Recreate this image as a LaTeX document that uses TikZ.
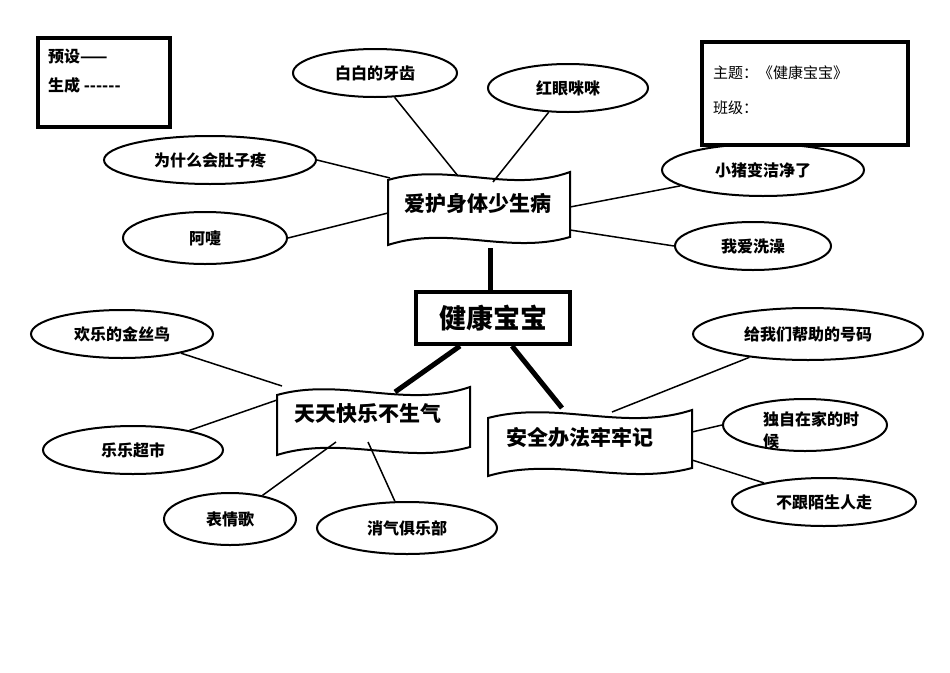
\documentclass[tikz,border=0pt]{standalone}
\usepackage{fontspec}
\newfontfamily\cjk{Noto Sans CJK SC}
\usetikzlibrary{shapes.geometric}
\tikzset{
 ell/.style={ellipse,draw,line width=2pt,font=\cjk\bfseries\fontsize{16}{18}\selectfont,inner sep=0pt},
 conn/.style={line width=1.5pt},
 thk/.style={line width=5pt},
 bantext/.style={font=\cjk\bfseries\fontsize{21}{24}\selectfont,inner sep=0pt},
}
\newcommand\banner[4]{%
 \draw[line width=2pt,fill=white] (#1,#2+8) .. controls ({#1+(#3-#1)/3},#2-10) and ({#1+2*(#3-#1)/3},#2+22) .. (#3,#2) -- (#3,#4-8) .. controls ({#3-(#3-#1)/3},#4+10) and ({#1+(#3-#1)/3},#4-20) .. (#1,#4) -- cycle;}
\begin{document}
\begin{tikzpicture}[x=1pt,y=-1pt]
\useasboundingbox (0,0) rectangle (950,672);
% connectors first
\coordinate (cT) at (490,292); \coordinate (bT) at (490,248);
\draw[thk] (cT) -- (bT);
\coordinate (cL) at (460,346); \coordinate (bL) at (395,392);
\draw[thk] (cL) -- (bL);
\coordinate (cR) at (512,346); \coordinate (bR) at (562,408);
\draw[thk] (cR) -- (bR);
% boxes
\draw[line width=4pt] (38,38) rectangle (170,127);
\node[anchor=west,font=\cjk\bfseries\fontsize{16}{18}\selectfont,inner sep=0pt] (ys) at (48,57) {预设——};
\node[anchor=west,font=\cjk\bfseries\fontsize{16}{18}\selectfont,inner sep=0pt] (sc) at (48,85) {生成 ------};
\draw[line width=4pt] (702,42) rectangle (908,145);
\node[anchor=west,font=\cjk\fontsize{15}{18}\selectfont,inner sep=0pt] (zt) at (713,73) {主题：《健康宝宝》};
\node[anchor=west,font=\cjk\fontsize{15}{18}\selectfont,inner sep=0pt] (bj) at (713,108) {班级：};
% center
\node[draw,line width=4pt,minimum width=154pt,minimum height=52pt,font=\cjk\bfseries\fontsize{27}{30}\selectfont] (c) at (493,318) {健康宝宝};
% banners
\banner{388}{172}{570}{245}
\node[bantext] (b1) at (478,203) {爱护身体少生病};
\banner{277}{387}{470}{455}
\node[bantext] (b2) at (368,414) {天天快乐不生气};
\banner{488}{410}{692}{476}
\node[bantext] (b3) at (580,438) {安全办法牢牢记};
% ellipses
\node[ell,minimum width=164pt,minimum height=48pt] (e1) at (375,73) {白白的牙齿};
\node[ell,minimum width=160pt,minimum height=48pt] (e2) at (568,88) {红眼咪咪};
\node[ell,minimum width=212pt,minimum height=48pt] (e3) at (210,160) {为什么会肚子疼};
\node[ell,minimum width=202pt,minimum height=52pt] (e4) at (763,170) {小猪变洁净了};
\node[ell,minimum width=164pt,minimum height=52pt] (e5) at (205,238) {阿嚏};
\node[ell,minimum width=156pt,minimum height=48pt] (e6) at (753,246) {我爱洗澡};
\node[ell,minimum width=182pt,minimum height=48pt] (e7) at (122,334) {欢乐的金丝鸟};
\node[ell,minimum width=180pt,minimum height=48pt] (e8) at (133,450) {乐乐超市};
\node[ell,minimum width=132pt,minimum height=52pt] (e9) at (230,519) {表情歌};
\node[ell,minimum width=180pt,minimum height=52pt] (e10) at (407,528) {消气俱乐部};
\node[ell,minimum width=230pt,minimum height=52pt] (e11) at (808,334) {给我们帮助的号码};
\node[ell,minimum width=164pt,minimum height=52pt] (e12) at (805,425) {};
\node[anchor=north west,align=left,font=\cjk\bfseries\fontsize{16}{22}\selectfont,inner sep=0pt] (t12) at (763,411) {独自在家的时\\候};
\node[ell,minimum width=184pt,minimum height=48pt] (e13) at (824,502) {不跟陌生人走};
% thin connectors
\coordinate (p1) at (458,176); \draw[conn] (e1) -- (p1);
\coordinate (p2) at (493,182); \draw[conn] (e2) -- (p2);
\coordinate (p3) at (390,178); \draw[conn] (e3.east) -- (p3);
\coordinate (p4) at (570,207); \draw[conn] (e4) -- (p4);
\coordinate (p5) at (388,213); \draw[conn] (e5.east) -- (p5);
\coordinate (p6) at (570,230); \draw[conn] (e6.west) -- (p6);
\coordinate (p7) at (282,386); \draw[conn] (e7) -- (p7);
\coordinate (p8) at (277,400); \draw[conn] (e8) -- (p8);
\coordinate (p9) at (336,442); \draw[conn] (e9) -- (p9);
\coordinate (p10) at (368,442); \draw[conn] (e10) -- (p10);
\coordinate (p11) at (612,412); \draw[conn] (e11) -- (p11);
\coordinate (p12) at (692,432); \draw[conn] (e12.west) -- (p12);
\coordinate (p13) at (692,460); \draw[conn] (e13) -- (p13);
\end{tikzpicture}
\end{document}
